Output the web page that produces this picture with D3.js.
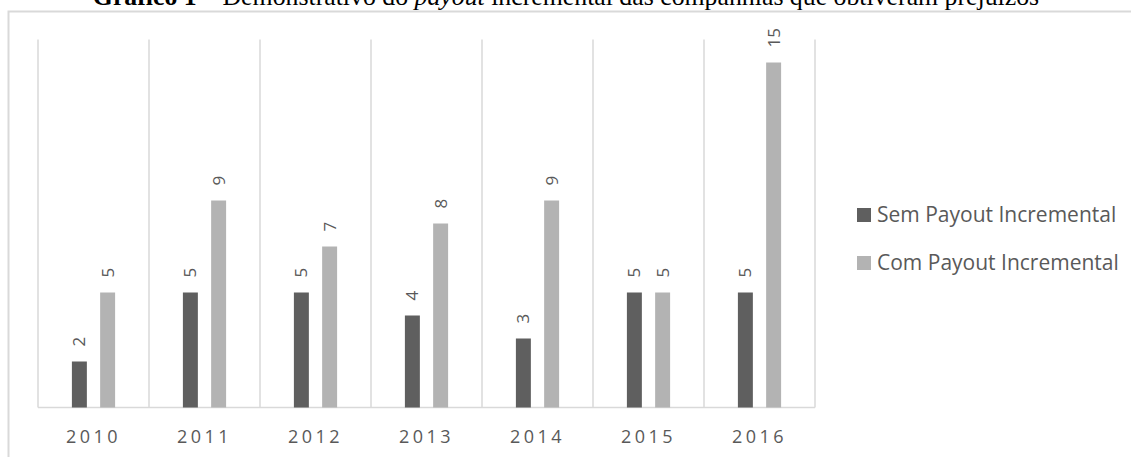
<!DOCTYPE html>
<html>
<head>
<meta charset="utf-8">
<script src="https://cdn.jsdelivr.net/npm/d3@7"></script>
<style>
  body { margin: 0; background: #fff; }
  svg { display: block; }
</style>
</head>
<body>
<div id="chart"></div>
<script>
// data
const years = ["2010", "2011", "2012", "2013", "2014", "2015", "2016"];
const seriesNames = ["Sem Payout Incremental", "Com Payout Incremental"];
const semPayout = [2, 5, 5, 4, 3, 5, 5];
const comPayout = [5, 9, 7, 8, 9, 5, 15];
const seriesColors = ["#5f5f5f", "#b3b3b3"];

const width = 1131;
const height = 457;
const plot = {left: 38, right: 815, top: 39.5, bottom: 407.5};

const svg = d3.select("#chart")
    .append("svg")
    .attr("width", width)
    .attr("height", height);

// title, cut off at the top like in the picture
const title = svg.append("text")
    .attr("x", 566)
    .attr("y", 5)
    .attr("text-anchor", "middle")
    .style("font-family", "'Liberation Serif', 'Times New Roman', serif")
    .style("font-size", "25.8px")
    .attr("fill", "#000");
title.append("tspan").style("font-weight", "bold").text("Gráfico 1");
title.append("tspan").text(" – Demonstrativo do ");
title.append("tspan").style("font-style", "italic").text("payout");
title.append("tspan").text(" incremental das companhias que obtiveram prejuízos");

// chart border (left and top only visible)
svg.append("path")
    .attr("d", `M8.5,${height} V11.5 H${width}`)
    .attr("fill", "none")
    .attr("stroke", "#d9d9d9")
    .attr("stroke-width", 2);

const x0 = d3.scaleBand()
    .domain(years)
    .range([plot.left, plot.right])
    .paddingInner(0)
    .paddingOuter(0);

const x1 = d3.scaleBand()
    .domain(seriesNames)
    .range([0, x0.bandwidth()])
    .paddingInner(0.47)
    .paddingOuter(1.2);

const y = d3.scaleLinear()
    .domain([0, 16])
    .range([plot.bottom, plot.top]);

// vertical gridlines between categories
const bounds = years.map(d => x0(d)).concat([x0(years[years.length - 1]) + x0.bandwidth()]);
svg.append("g")
    .selectAll("line")
    .data(bounds)
    .enter()
    .append("line")
    .attr("x1", d => d)
    .attr("x2", d => d)
    .attr("y1", plot.top)
    .attr("y2", plot.bottom)
    .attr("stroke", "#d9d9d9")
    .attr("stroke-width", 1.5);

// baseline
svg.append("line")
    .attr("x1", plot.left)
    .attr("x2", plot.right)
    .attr("y1", y(0))
    .attr("y2", y(0))
    .attr("stroke", "#d9d9d9")
    .attr("stroke-width", 1.5);

const rows = years.map((yr, i) => ({
    year: yr,
    values: [semPayout[i], comPayout[i]]
}));

const groups = svg.append("g")
    .selectAll("g")
    .data(rows)
    .enter()
    .append("g")
    .attr("transform", d => `translate(${x0(d.year)},0)`);

const cells = groups.selectAll("g")
    .data(d => d.values.map((v, k) => ({name: seriesNames[k], value: v, k: k})))
    .enter()
    .append("g");

cells.append("rect")
    .attr("x", d => x1(d.name))
    .attr("y", d => y(d.value))
    .attr("width", x1.bandwidth())
    .attr("height", d => y(0) - y(d.value))
    .attr("fill", d => seriesColors[d.k]);

// rotated value labels
cells.append("text")
    .attr("transform", d => `translate(${x1(d.name) + x1.bandwidth() / 2 + 6},${y(d.value) - 15}) rotate(-90)`)
    .attr("text-anchor", "start")
    .style("font-family", "'Open Sans', sans-serif")
    .style("font-size", "17px")
    .attr("fill", "#595959")
    .text(d => d.value);

// category labels
svg.append("g")
    .selectAll("text")
    .data(years)
    .enter()
    .append("text")
    .attr("x", d => x0(d) + x0.bandwidth() / 2)
    .attr("y", 443)
    .attr("text-anchor", "middle")
    .style("font-family", "'Open Sans', sans-serif")
    .style("font-size", "18px")
    .style("letter-spacing", "3.5px")
    .attr("fill", "#595959")
    .text(d => d);

// legend
const legend = svg.append("g")
    .selectAll("g")
    .data(seriesNames)
    .enter()
    .append("g")
    .attr("transform", (d, i) => `translate(857,${208 + i * 48})`);

legend.append("rect")
    .attr("width", 14)
    .attr("height", 14)
    .attr("fill", (d, i) => seriesColors[i]);

legend.append("text")
    .attr("x", 20)
    .attr("y", 14)
    .style("font-family", "'Open Sans', sans-serif")
    .style("font-size", "21px")
    .attr("fill", "#595959")
    .text(d => d);
</script>
</body>
</html>
